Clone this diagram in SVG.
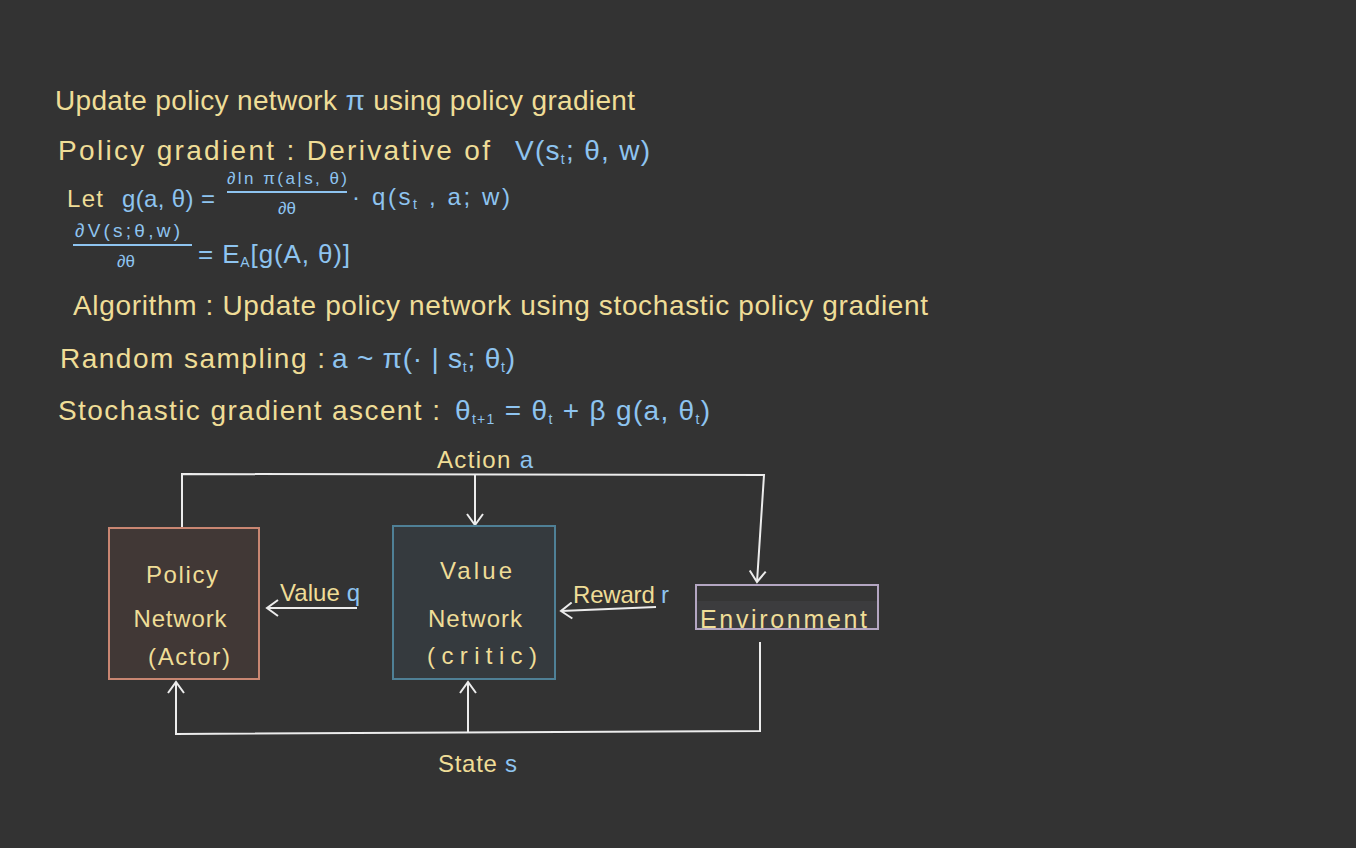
<svg xmlns="http://www.w3.org/2000/svg" width="1356" height="848" viewBox="0 0 1356 848">
<style>
text{font-family:"Liberation Sans","DejaVu Sans",sans-serif;}
.y{fill:#efdd97;}
.b{fill:#8ec4f0;}
.t28{font-size:28px;}
.t24{font-size:24px;}
.t22{font-size:22px;}
.t16{font-size:17px;}
.sub{font-size:14px;}
.c{text-anchor:middle;}
.wire{fill:none;stroke:#ececec;stroke-width:2;}
.bar{stroke:#8ec4f0;stroke-width:2;}
</style>
<defs>
<marker id="arr" markerWidth="16" markerHeight="18" refX="13" refY="9" orient="auto" markerUnits="userSpaceOnUse">
<path d="M2,1 L13,9 L2,17" fill="none" stroke="#ececec" stroke-width="2"/>
</marker>
</defs>
<rect width="1356" height="848" fill="#333333"/>

<g id="notes">
<text class="y t28" x="55" y="110" textLength="580" lengthAdjust="spacing">Update policy network <tspan class="b">π</tspan> using policy gradient</text>
<text class="y t28" x="58" y="160" textLength="432" lengthAdjust="spacing">Policy gradient : Derivative  of</text>
<text class="b t28" x="515" y="160" textLength="135" lengthAdjust="spacing">V(s<tspan class="sub" dy="4">t</tspan><tspan dy="-4">; θ, w)</tspan></text>

<text class="y t24" x="67" y="207" textLength="36" lengthAdjust="spacing">Let</text>
<text class="b t24" x="122" y="207" textLength="93" lengthAdjust="spacing">g(a, θ) =</text>
<text class="b t16 c" x="287" y="184" textLength="120" lengthAdjust="spacing">∂ln π(a|s, θ)</text>
<line class="bar" x1="227" y1="192" x2="347" y2="192"/>
<text class="b t16 c" x="287" y="214">∂θ</text>
<text class="b t24" x="352" y="205" textLength="158" lengthAdjust="spacing">· q(s<tspan class="sub" dy="4">t</tspan><tspan dy="-4"> , a; w)</tspan></text>

<text class="b" style="font-size:19px" x="75" y="237" textLength="105" lengthAdjust="spacing">∂V(s;θ,w)</text>
<line class="bar" x1="73" y1="245" x2="192" y2="245"/>
<text class="b t16 c" x="126" y="267">∂θ</text>
<text class="b" style="font-size:26px" x="198" y="263" textLength="152" lengthAdjust="spacing">= E<tspan class="sub" dy="4">A</tspan><tspan dy="-4">[g(A, θ)]</tspan></text>

<text class="y t28" x="73" y="315" textLength="855" lengthAdjust="spacing">Algorithm : Update policy network using stochastic policy gradient</text>
<text class="y t28" x="60" y="368" textLength="265" lengthAdjust="spacing">Random sampling :</text>
<text class="b t28" x="332" y="368" textLength="183" lengthAdjust="spacing">a ~ π(· | s<tspan class="sub" dy="4">t</tspan><tspan dy="-4">; θ</tspan><tspan class="sub" dy="4">t</tspan><tspan dy="-4">)</tspan></text>
<text class="y t28" x="58" y="420" textLength="382" lengthAdjust="spacing">Stochastic gradient ascent :</text>
<text class="b t28" x="455" y="420" textLength="255" lengthAdjust="spacing">θ<tspan class="sub" dy="4">t+1</tspan><tspan dy="-4"> = θ</tspan><tspan class="sub" dy="4">t</tspan><tspan dy="-4"> + β g(a, θ</tspan><tspan class="sub" dy="4">t</tspan><tspan dy="-4">)</tspan></text>
</g>

<g id="connectors">
<path class="wire" d="M182,527 L182,474 L764,475 L757,582" marker-end="url(#arr)"/>
<path class="wire" d="M475,474 L475,525" marker-end="url(#arr)"/>
<path class="wire" d="M357,608 L267,608" marker-end="url(#arr)"/>
<path class="wire" d="M656,607 L561,611" marker-end="url(#arr)"/>
<path class="wire" d="M760,642 L760,731 L176,734 L176,682" marker-end="url(#arr)"/>
<path class="wire" d="M468,733 L468,682" marker-end="url(#arr)"/>
<text class="y t24" x="437" y="468" textLength="96" lengthAdjust="spacing">Action <tspan class="b">a</tspan></text>
<text class="y t24" x="280" y="601" textLength="80" lengthAdjust="spacing">Value <tspan class="b">q</tspan></text>
<text class="y t24" x="573" y="603" textLength="96" lengthAdjust="spacing">Reward <tspan class="b">r</tspan></text>
<text class="y t24" x="438" y="772" textLength="79" lengthAdjust="spacing">State <tspan class="b">s</tspan></text>
</g>

<g id="policy">
<rect x="109" y="528" width="150" height="151" fill="#413836" stroke="#c98672" stroke-width="2"/>
<text class="y t24 c" x="182" y="583" textLength="72" lengthAdjust="spacing">Policy</text>
<text class="y t24 c" x="180" y="627" textLength="93" lengthAdjust="spacing">Network</text>
<text class="y t24 c" x="189" y="665" textLength="82" lengthAdjust="spacing">(Actor)</text>
</g>

<g id="value">
<rect x="393" y="526" width="162" height="153" fill="#353a3e" stroke="#4f8096" stroke-width="2"/>
<text class="y t24 c" x="476" y="579" textLength="72" lengthAdjust="spacing">Value</text>
<text class="y t24 c" x="475" y="627" textLength="94" lengthAdjust="spacing">Network</text>
<text class="y t24 c" x="482" y="664" textLength="110" lengthAdjust="spacing">(critic)</text>
</g>

<g id="environment">
<rect x="696" y="585" width="182" height="44" fill="#353535" stroke="#b4a6c2" stroke-width="2"/>
<rect x="697" y="601" width="180" height="27" fill="#3c3c3e"/>
<text class="y" style="font-size:25px" x="700" y="628" textLength="167" lengthAdjust="spacing">Environment</text>
</g>
</svg>
